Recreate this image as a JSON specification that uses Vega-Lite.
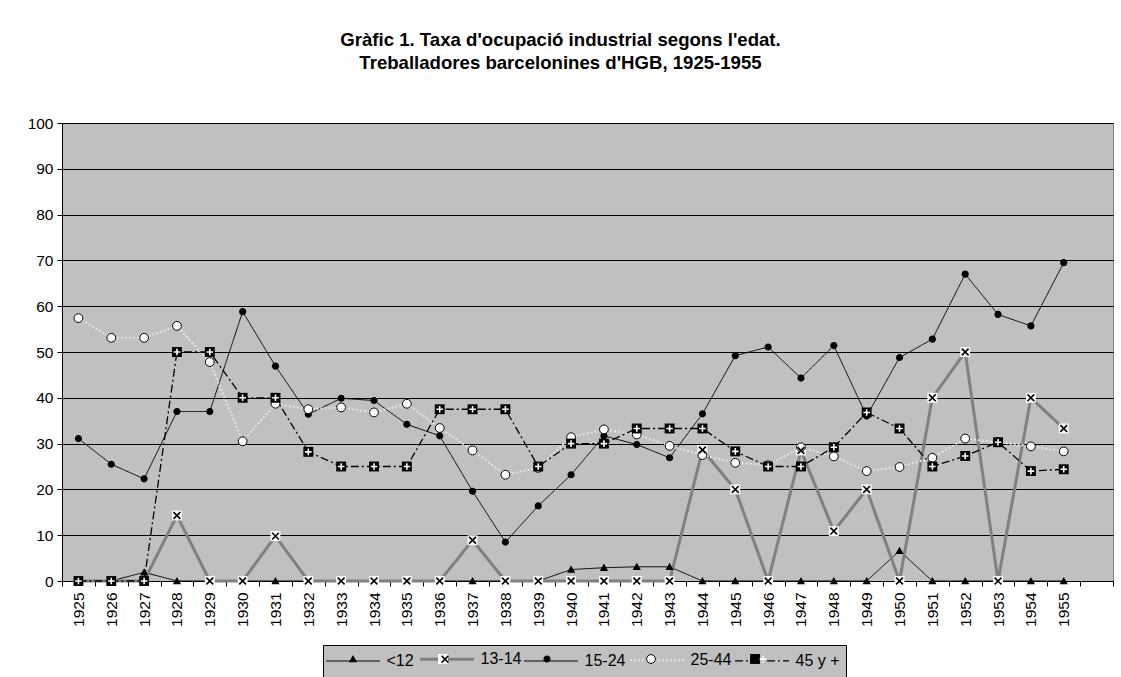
{
  "$schema": "https://vega.github.io/schema/vega-lite/v6.json",
  "width": 1051,
  "height": 458,
  "autosize": "none",
  "padding": {"left": 62, "top": 123, "right": 8, "bottom": 96},
  "background": "white",
  "title": {
    "text": ["Gràfic 1. Taxa d'ocupació industrial segons l'edat.", "Treballadores barcelonines d'HGB, 1925-1955"],
    "font": "Liberation Sans",
    "fontSize": 18.6,
    "fontWeight": "bold",
    "color": "black",
    "anchor": "middle",
    "frame": "group",
    "lineHeight": 23,
    "offset": 43,
    "dx": -27
  },
  "config": {
    "view": {"fill": "#c0c0c0", "stroke": "#808080", "strokeWidth": 1},
    "font": "Liberation Sans",
    "axis": {"labelFont": "Liberation Sans", "labelColor": "black", "labelFontSize": 15.5, "domainColor": "black", "tickColor": "black", "tickSize": 5, "title": null},
    "legend": {"orient": "none", "legendX": 261, "legendY": 522, "direction": "horizontal", "symbolSize": 121, "labelFontSize": 16, "labelFont": "Liberation Sans", "padding": 6, "columnPadding": 0, "rowPadding": 0, "labelOffset": 25.5, "symbolOffset": 16, "title": null}
  },
  "resolve": {"scale": {"shape": "independent", "stroke": "independent", "fill": "independent"}},
  "data": {"values": [
    {"year":1925,"serie":"<12","value":0},{"year":1926,"serie":"<12","value":0},{"year":1927,"serie":"<12","value":1.9},{"year":1928,"serie":"<12","value":0},{"year":1929,"serie":"<12","value":0},{"year":1930,"serie":"<12","value":0},{"year":1931,"serie":"<12","value":0},{"year":1932,"serie":"<12","value":0},{"year":1933,"serie":"<12","value":0},{"year":1934,"serie":"<12","value":0},{"year":1935,"serie":"<12","value":0},{"year":1936,"serie":"<12","value":0},{"year":1937,"serie":"<12","value":0},{"year":1938,"serie":"<12","value":0},{"year":1939,"serie":"<12","value":0},{"year":1940,"serie":"<12","value":2.5},{"year":1941,"serie":"<12","value":2.9},{"year":1942,"serie":"<12","value":3.1},{"year":1943,"serie":"<12","value":3.1},{"year":1944,"serie":"<12","value":0},{"year":1945,"serie":"<12","value":0},{"year":1946,"serie":"<12","value":0},{"year":1947,"serie":"<12","value":0},{"year":1948,"serie":"<12","value":0},{"year":1949,"serie":"<12","value":0},{"year":1950,"serie":"<12","value":6.6},{"year":1951,"serie":"<12","value":0},{"year":1952,"serie":"<12","value":0},{"year":1953,"serie":"<12","value":0},{"year":1954,"serie":"<12","value":0},{"year":1955,"serie":"<12","value":0},
    {"year":1925,"serie":"13-14","value":0},{"year":1926,"serie":"13-14","value":0},{"year":1927,"serie":"13-14","value":0},{"year":1928,"serie":"13-14","value":14.3},{"year":1929,"serie":"13-14","value":0},{"year":1930,"serie":"13-14","value":0},{"year":1931,"serie":"13-14","value":9.8},{"year":1932,"serie":"13-14","value":0},{"year":1933,"serie":"13-14","value":0},{"year":1934,"serie":"13-14","value":0},{"year":1935,"serie":"13-14","value":0},{"year":1936,"serie":"13-14","value":0},{"year":1937,"serie":"13-14","value":8.9},{"year":1938,"serie":"13-14","value":0},{"year":1939,"serie":"13-14","value":0},{"year":1940,"serie":"13-14","value":0},{"year":1941,"serie":"13-14","value":0},{"year":1942,"serie":"13-14","value":0},{"year":1943,"serie":"13-14","value":0},{"year":1944,"serie":"13-14","value":28.6},{"year":1945,"serie":"13-14","value":20},{"year":1946,"serie":"13-14","value":0},{"year":1947,"serie":"13-14","value":28.5},{"year":1948,"serie":"13-14","value":10.9},{"year":1949,"serie":"13-14","value":20},{"year":1950,"serie":"13-14","value":0},{"year":1951,"serie":"13-14","value":40},{"year":1952,"serie":"13-14","value":50},{"year":1953,"serie":"13-14","value":0},{"year":1954,"serie":"13-14","value":40},{"year":1955,"serie":"13-14","value":33.3},
    {"year":1925,"serie":"15-24","value":31.1},{"year":1926,"serie":"15-24","value":25.5},{"year":1927,"serie":"15-24","value":22.3},{"year":1928,"serie":"15-24","value":37.0},{"year":1929,"serie":"15-24","value":37.0},{"year":1930,"serie":"15-24","value":58.8},{"year":1931,"serie":"15-24","value":46.9},{"year":1932,"serie":"15-24","value":36.4},{"year":1933,"serie":"15-24","value":39.9},{"year":1934,"serie":"15-24","value":39.4},{"year":1935,"serie":"15-24","value":34.2},{"year":1936,"serie":"15-24","value":31.7},{"year":1937,"serie":"15-24","value":19.6},{"year":1938,"serie":"15-24","value":8.5},{"year":1939,"serie":"15-24","value":16.4},{"year":1940,"serie":"15-24","value":23.2},{"year":1941,"serie":"15-24","value":31.7},{"year":1942,"serie":"15-24","value":29.8},{"year":1943,"serie":"15-24","value":26.9},{"year":1944,"serie":"15-24","value":36.5},{"year":1945,"serie":"15-24","value":49.2},{"year":1946,"serie":"15-24","value":51.1},{"year":1947,"serie":"15-24","value":44.3},{"year":1948,"serie":"15-24","value":51.4},{"year":1949,"serie":"15-24","value":36.0},{"year":1950,"serie":"15-24","value":48.8},{"year":1951,"serie":"15-24","value":52.8},{"year":1952,"serie":"15-24","value":67.0},{"year":1953,"serie":"15-24","value":58.2},{"year":1954,"serie":"15-24","value":55.7},{"year":1955,"serie":"15-24","value":69.5},
    {"year":1925,"serie":"25-44","value":57.4},{"year":1926,"serie":"25-44","value":53.1},{"year":1927,"serie":"25-44","value":53.1},{"year":1928,"serie":"25-44","value":55.7},{"year":1929,"serie":"25-44","value":47.8},{"year":1930,"serie":"25-44","value":30.5},{"year":1931,"serie":"25-44","value":38.7},{"year":1932,"serie":"25-44","value":37.5},{"year":1933,"serie":"25-44","value":37.9},{"year":1934,"serie":"25-44","value":36.8},{"year":1935,"serie":"25-44","value":38.7},{"year":1936,"serie":"25-44","value":33.4},{"year":1937,"serie":"25-44","value":28.5},{"year":1938,"serie":"25-44","value":23.2},{"year":1939,"serie":"25-44","value":24.7},{"year":1940,"serie":"25-44","value":31.4},{"year":1941,"serie":"25-44","value":33.1},{"year":1942,"serie":"25-44","value":32.0},{"year":1943,"serie":"25-44","value":29.5},{"year":1944,"serie":"25-44","value":27.5},{"year":1945,"serie":"25-44","value":25.8},{"year":1946,"serie":"25-44","value":25.3},{"year":1947,"serie":"25-44","value":29.2},{"year":1948,"serie":"25-44","value":27.2},{"year":1949,"serie":"25-44","value":24.0},{"year":1950,"serie":"25-44","value":24.9},{"year":1951,"serie":"25-44","value":26.9},{"year":1952,"serie":"25-44","value":31.1},{"year":1953,"serie":"25-44","value":30.3},{"year":1954,"serie":"25-44","value":29.4},{"year":1955,"serie":"25-44","value":28.3},
    {"year":1925,"serie":"45 y +","value":0},{"year":1926,"serie":"45 y +","value":0},{"year":1927,"serie":"45 y +","value":0},{"year":1928,"serie":"45 y +","value":50},{"year":1929,"serie":"45 y +","value":50},{"year":1930,"serie":"45 y +","value":40},{"year":1931,"serie":"45 y +","value":40},{"year":1932,"serie":"45 y +","value":28.2},{"year":1933,"serie":"45 y +","value":25},{"year":1934,"serie":"45 y +","value":25},{"year":1935,"serie":"45 y +","value":25},{"year":1936,"serie":"45 y +","value":37.5},{"year":1937,"serie":"45 y +","value":37.5},{"year":1938,"serie":"45 y +","value":37.5},{"year":1939,"serie":"45 y +","value":25},{"year":1940,"serie":"45 y +","value":30},{"year":1941,"serie":"45 y +","value":30},{"year":1942,"serie":"45 y +","value":33.3},{"year":1943,"serie":"45 y +","value":33.3},{"year":1944,"serie":"45 y +","value":33.3},{"year":1945,"serie":"45 y +","value":28.3},{"year":1946,"serie":"45 y +","value":25},{"year":1947,"serie":"45 y +","value":25},{"year":1948,"serie":"45 y +","value":29.2},{"year":1949,"serie":"45 y +","value":36.8},{"year":1950,"serie":"45 y +","value":33.3},{"year":1951,"serie":"45 y +","value":25},{"year":1952,"serie":"45 y +","value":27.3},{"year":1953,"serie":"45 y +","value":30.3},{"year":1954,"serie":"45 y +","value":24},{"year":1955,"serie":"45 y +","value":24.4}
  ]},
  "encoding": {
    "x": {
      "field": "year", "type": "ordinal", "bandPosition": 0.5,
      "scale": {"type": "band", "paddingInner": 0, "paddingOuter": 0,
        "domain": [1925,1926,1927,1928,1929,1930,1931,1932,1933,1934,1935,1936,1937,1938,1939,1940,1941,1942,1943,1944,1945,1946,1947,1948,1949,1950,1951,1952,1953,1954,1955,1956]},
      "axis": {"labelAngle": -90, "tickBand": "extent", "labelExpr": "datum.value == 1956 ? '' : datum.label", "labelPadding": 6, "grid": false}
    },
    "y": {
      "field": "value", "type": "quantitative",
      "scale": {"domain": [0, 100], "nice": false},
      "axis": {"values": [0,10,20,30,40,50,60,70,80,90,100], "grid": true, "gridColor": "black", "gridOpacity": 1, "gridWidth": 1, "labelPadding": 4}
    }
  },
  "layer": [
    {
      "mark": {"type": "line", "interpolate": "linear"},
      "encoding": {
        "color": {"field": "serie", "type": "nominal",
          "scale": {"domain": ["<12","13-14","15-24","25-44","45 y +"], "range": ["black","#808080","black","#e4e4e4","black"]},
          "legend": {"symbolType": "M-4.9,-1M4.9,1M-4.9,0L4.9,0", "labelColor": "black", "fillColor": "#c0c0c0", "strokeColor": "black"}},
        "strokeDash": {"field": "serie", "type": "nominal",
          "scale": {"type": "ordinal", "domain": ["<12","13-14","15-24","25-44","45 y +"], "range": [[1,0],[1,0],[1,0],[2,2],[8,3,2,3]]}},
        "strokeWidth": {"field": "serie", "type": "nominal",
          "scale": {"type": "ordinal", "domain": ["<12","13-14","15-24","25-44","45 y +"], "range": [1,3,1,2,1.3]}}
      }
    },
    {
      "mark": {"type": "point", "filled": true, "size": 121, "strokeWidth": 1, "opacity": 1},
      "encoding": {
        "shape": {"field": "serie", "type": "nominal",
          "scale": {"domain": ["<12","13-14","15-24","25-44","45 y +","zz1"], "range": [
            "M-4.9,-1M4.9,1M0,-0.75L0.75,0.6L-0.75,0.6Z",
            "M-4.9,-1M4.9,1M-0.9,-0.9H0.9V0.9H-0.9Z",
            "M-4.9,-1M4.9,1M-0.65,0A0.65,0.65,0,1,1,0.65,0A0.65,0.65,0,1,1,-0.65,0Z",
            "M-4.9,-1M4.9,1M-0.8,0A0.8,0.8,0,1,1,0.8,0A0.8,0.8,0,1,1,-0.8,0Z",
            "M-4.9,-1M4.9,1M-0.9,-0.9H0.9V0.9H-0.9Z",
            "M-4.9,-1M4.9,1"]},
          "legend": {"values": ["<12","13-14","15-24","25-44","45 y +"], "labelColor": "transparent", "symbolOpacity": 1, "symbolStrokeWidth": 1}},
        "fill": {"field": "serie", "type": "nominal",
          "scale": {"domain": ["<12","13-14","15-24","25-44","45 y +","zz1"], "range": ["black","white","black","white","black","transparent"]},
          "legend": {"values": ["<12","13-14","15-24","25-44","45 y +"], "labelColor": "transparent", "symbolOpacity": 1, "symbolStrokeWidth": 1}},
        "stroke": {"field": "serie", "type": "nominal",
          "scale": {"domain": ["<12","13-14","15-24","25-44","45 y +","zz1"], "range": ["transparent","transparent","transparent","black","transparent","transparent"]},
          "legend": {"values": ["<12","13-14","15-24","25-44","45 y +"], "labelColor": "transparent", "symbolOpacity": 1, "symbolStrokeWidth": 1}}
      }
    },
    {
      "transform": [{"filter": "datum.serie == '13-14' || datum.serie == '45 y +'"}],
      "mark": {"type": "point", "filled": false, "size": 121, "strokeWidth": 1.6, "opacity": 1},
      "encoding": {
        "shape": {"field": "serie", "type": "nominal",
          "scale": {"domain": ["<12","13-14","15-24","25-44","45 y +","zz1","zz2"], "range": [
            "M-4.9,-1M4.9,1",
            "M-4.9,-1M4.9,1M-0.62,-0.62L0.62,0.62M-0.62,0.62L0.62,-0.62",
            "M-4.9,-1M4.9,1",
            "M-4.9,-1M4.9,1",
            "M-4.9,-1M4.9,1M-0.6,0H0.6M0,-0.6V0.6",
            "M-4.9,-1M4.9,1",
            "M-4.9,-1M4.9,1"]},
          "legend": {"values": ["<12","13-14","15-24","25-44","45 y +"], "labelColor": "transparent", "symbolOpacity": 1, "symbolStrokeWidth": 1.6}},
        "stroke": {"field": "serie", "type": "nominal",
          "scale": {"domain": ["<12","13-14","15-24","25-44","45 y +","zz1","zz2"], "range": ["transparent","black","transparent","transparent","white","transparent","transparent"]},
          "legend": {"values": ["<12","13-14","15-24","25-44","45 y +"], "labelColor": "transparent", "symbolOpacity": 1, "symbolStrokeWidth": 1.6}}
      }
    }
  ]
}
